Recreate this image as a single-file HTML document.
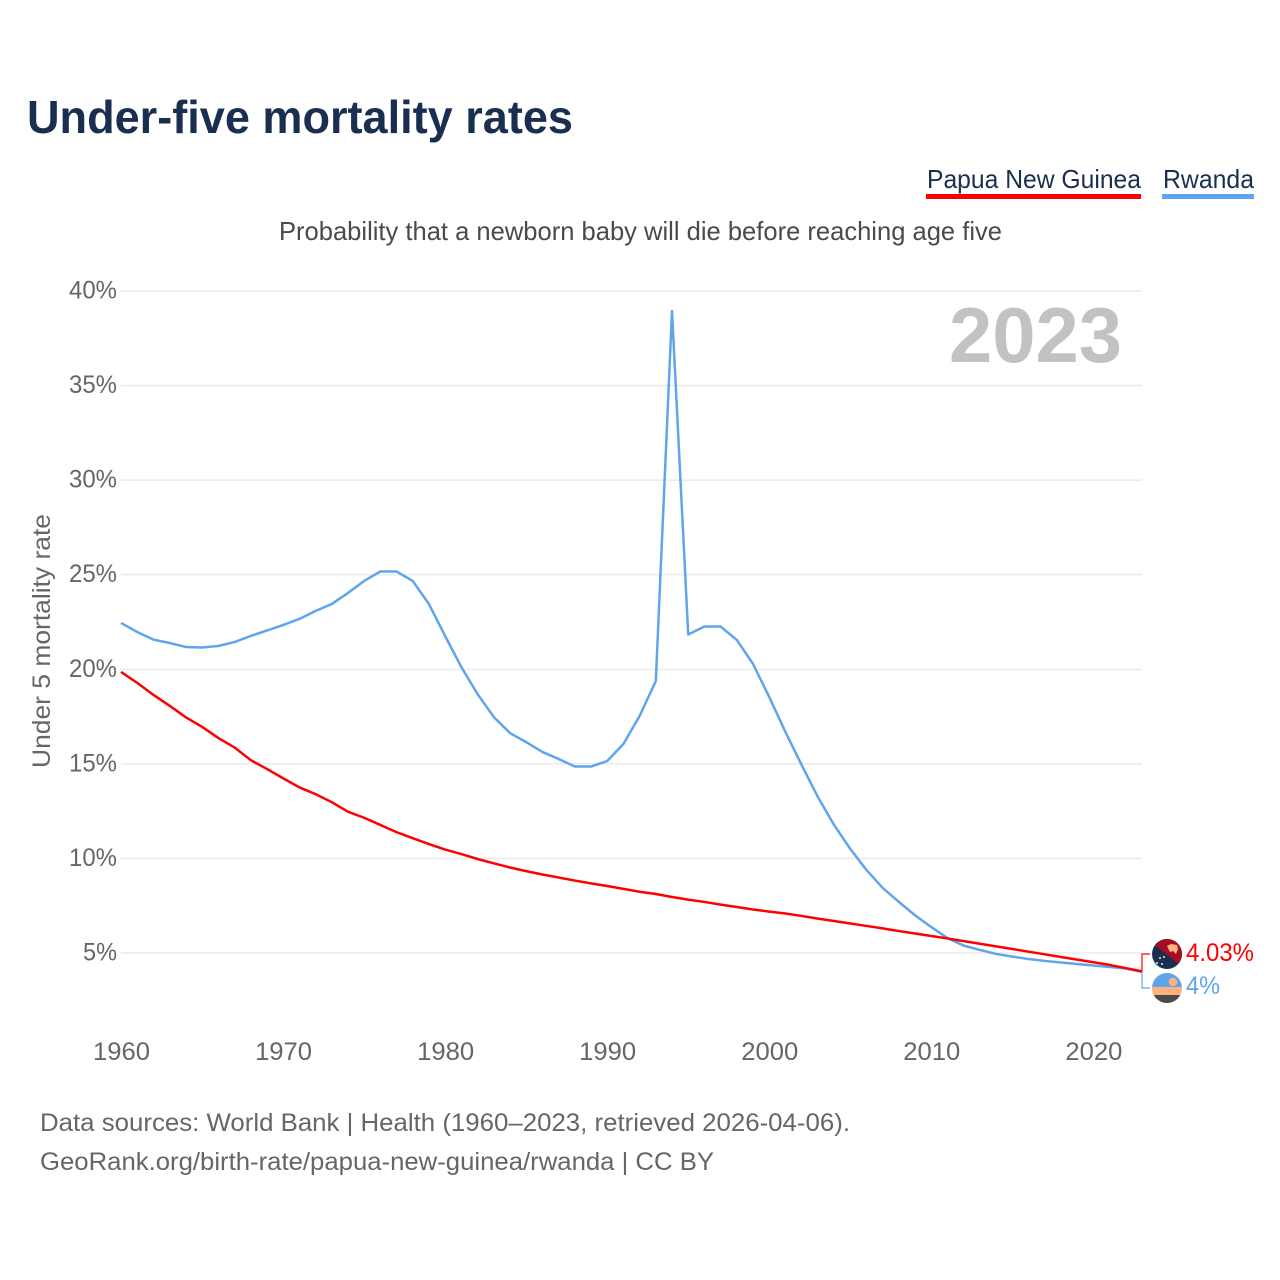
<!DOCTYPE html>
<html lang="en">
<head>
<meta charset="utf-8">
<title>Under-five mortality rates</title>
<style>
html,body{margin:0;padding:0;background:#fff;width:1280px;height:1280px;overflow:hidden}
svg{display:block}
text{font-family:"Liberation Sans",sans-serif}
</style>
</head>
<body>
<svg id="chart" xmlns="http://www.w3.org/2000/svg" width="1280" height="1280" viewBox="0 0 1280 1280">
  <defs>
    <clipPath id="flag-clip-a"><circle cx="1167" cy="954" r="15"/></clipPath>
    <clipPath id="flag-clip-b"><circle cx="1167" cy="988" r="15"/></clipPath>
  </defs>
  <text x="27" y="133" font-size="46" font-weight="700" fill="#1a2f50" textLength="546" lengthAdjust="spacingAndGlyphs">Under-five mortality rates</text>

  <g>
    <text x="927" y="188" font-size="26" fill="#1a2f50" textLength="214" lengthAdjust="spacingAndGlyphs">Papua New Guinea</text>
    <rect x="926" y="194" width="215" height="5" fill="#ff0000"/>
  </g>
  <g>
    <text x="1163" y="188" font-size="26" fill="#1a2f50" textLength="91" lengthAdjust="spacingAndGlyphs">Rwanda</text>
    <rect x="1162" y="194" width="92" height="5" fill="#60a5ec"/>
  </g>

  <text x="279" y="240" font-size="26" fill="#4a4a4a" textLength="723" lengthAdjust="spacingAndGlyphs">Probability that a newborn baby will die before reaching age five</text>

  <g id="grid"></g>
  <g id="yticks"></g>
  <g id="xticks"></g>

  <text x="949" y="362" font-size="78" font-weight="700" fill="#c2c2c2" textLength="173" lengthAdjust="spacingAndGlyphs">2023</text>

  <text transform="translate(50,768) rotate(-90)" x="0" y="0" font-size="25" fill="#666" textLength="254" lengthAdjust="spacingAndGlyphs">Under 5 mortality rate</text>

  <polyline id="bracket-rwanda" fill="none" stroke="#60a5ec" stroke-width="1.2"/>
  <polyline id="bracket-png" fill="none" stroke="#ff0000" stroke-width="1.2"/>
  <polyline id="line-rwanda" fill="none" stroke="#60a5ec" stroke-width="2.5" stroke-linejoin="round"/>
  <polyline id="line-png" fill="none" stroke="#ff0000" stroke-width="2.5" stroke-linejoin="round"/>

  <g clip-path="url(#flag-clip-a)">
    <rect x="1152" y="939" width="30" height="30" fill="#1a2f50"/>
    <polygon points="1150,941 1150,935 1186,935 1186,970" fill="#a50f25"/>
    <polygon points="1167,946 1171,944 1177,945 1178,949 1176,954 1173,951 1170,952" fill="#ffb27f"/>
    <circle cx="1157" cy="963" r="1" fill="#e8e8e8"/>
    <circle cx="1160" cy="958" r="1" fill="#e8e8e8"/>
    <circle cx="1164" cy="957" r="1" fill="#e8e8e8"/>
    <circle cx="1162" cy="964" r="1" fill="#e8e8e8"/>
  </g>
  <g clip-path="url(#flag-clip-b)">
    <rect x="1152" y="973" width="30" height="14" fill="#60a5ec"/>
    <rect x="1152" y="987" width="30" height="8" fill="#ffb27f"/>
    <rect x="1152" y="995" width="30" height="9" fill="#4a4a4a"/>
    <circle cx="1173" cy="982" r="4.2" fill="#ffb27f"/>
  </g>

  <text x="1186" y="961" font-size="25" fill="#ff0000" textLength="68" lengthAdjust="spacingAndGlyphs">4.03%</text>
  <text x="1186" y="994" font-size="25" fill="#60a5ec" textLength="34" lengthAdjust="spacingAndGlyphs">4%</text>

  <text x="40" y="1131" font-size="25" fill="#666" textLength="810" lengthAdjust="spacingAndGlyphs">Data sources: World Bank | Health (1960–2023, retrieved 2026-04-06).</text>
  <text x="40" y="1170" font-size="25" fill="#666" textLength="674" lengthAdjust="spacingAndGlyphs">GeoRank.org/birth-rate/papua-new-guinea/rwanda | CC BY</text>
</svg>
<script>
const startYear = 1960;
const yTickValues = [5, 10, 15, 20, 25, 30, 35, 40];
const xTickYears = [1960, 1970, 1980, 1990, 2000, 2010, 2020];
const pngValues = [
  19.86,19.28,18.65,18.07,17.46,16.96,16.37,15.87,15.20,14.73,
  14.24,13.76,13.40,12.98,12.47,12.15,11.77,11.39,11.07,10.76,
  10.47,10.23,9.97,9.74,9.52,9.33,9.15,8.99,8.83,8.68,
  8.54,8.39,8.24,8.12,7.96,7.82,7.70,7.56,7.43,7.30,
  7.19,7.09,6.96,6.82,6.69,6.56,6.43,6.30,6.16,6.03,
  5.90,5.77,5.63,5.49,5.35,5.21,5.07,4.93,4.79,4.65,
  4.51,4.37,4.20,4.03
];
const rwandaValues = [
  22.45,21.97,21.57,21.39,21.18,21.15,21.23,21.44,21.76,22.05,
  22.34,22.66,23.08,23.45,24.03,24.67,25.17,25.17,24.67,23.45,
  21.76,20.12,18.69,17.48,16.63,16.15,15.63,15.26,14.86,14.86,
  15.15,16.05,17.53,19.38,38.94,21.84,22.26,22.26,21.55,20.28,
  18.53,16.68,14.94,13.25,11.77,10.50,9.39,8.44,7.70,6.99,
  6.37,5.79,5.39,5.16,4.95,4.81,4.68,4.58,4.50,4.42,
  4.34,4.26,4.18,4.00
];

const SVG_NS = 'http://www.w3.org/2000/svg';
const plotLeft = 121, plotRight = 1142, y5 = 953, y40 = 291;
const lastYear = startYear + pngValues.length - 1;
function xScale(year) {
  return plotLeft + (year - startYear) * (plotRight - plotLeft) / (lastYear - startYear);
}
function yScale(v) {
  return y5 + (v - 5) * (y40 - y5) / 35;
}
function points(values) {
  return values.map(function (v, i) {
    return xScale(startYear + i).toFixed(2) + ',' + yScale(v).toFixed(2);
  }).join(' ');
}

const grid = document.getElementById('grid');
const yticks = document.getElementById('yticks');
const xticks = document.getElementById('xticks');

yTickValues.forEach(function (v) {
  const line = document.createElementNS(SVG_NS, 'line');
  
  
  line.setAttribute('x1', plotLeft);
  line.setAttribute('x2', plotRight);
  line.setAttribute('y1', yScale(v));
  line.setAttribute('y2', yScale(v));
  line.setAttribute('stroke', '#ececec');
  line.setAttribute('stroke-width', '1.6');
  grid.appendChild(line);

  const label = document.createElementNS(SVG_NS, 'text');
  
  
  label.setAttribute('x', 117);
  label.setAttribute('y', yScale(v) + 7.5);
  label.setAttribute('text-anchor', 'end');
  label.setAttribute('font-size', '25');
  label.setAttribute('fill', '#666');
  label.setAttribute('textLength', v < 10 ? '34' : '48');
  label.setAttribute('lengthAdjust', 'spacingAndGlyphs');
  label.textContent = v + '%';
  yticks.appendChild(label);
});

xTickYears.forEach(function (year) {
  const label = document.createElementNS(SVG_NS, 'text');
  
  
  label.setAttribute('x', xScale(year) + 0.5);
  label.setAttribute('y', 1060);
  label.setAttribute('text-anchor', 'middle');
  label.setAttribute('font-size', '25');
  label.setAttribute('fill', '#666');
  label.setAttribute('textLength', '57');
  label.setAttribute('lengthAdjust', 'spacingAndGlyphs');
  label.textContent = year;
  xticks.appendChild(label);
});

document.getElementById('line-png').setAttribute('points', points(pngValues));
document.getElementById('line-rwanda').setAttribute('points', points(rwandaValues));

const pngEndY = yScale(pngValues[pngValues.length - 1]);
const rwandaEndY = yScale(rwandaValues[rwandaValues.length - 1]);
document.getElementById('bracket-png').setAttribute('points',
  plotRight + ',' + pngEndY + ' ' + plotRight + ',954 1150,954');
document.getElementById('bracket-rwanda').setAttribute('points',
  plotRight + ',' + rwandaEndY + ' ' + plotRight + ',988 1150,988');
</script>
</body>
</html>
